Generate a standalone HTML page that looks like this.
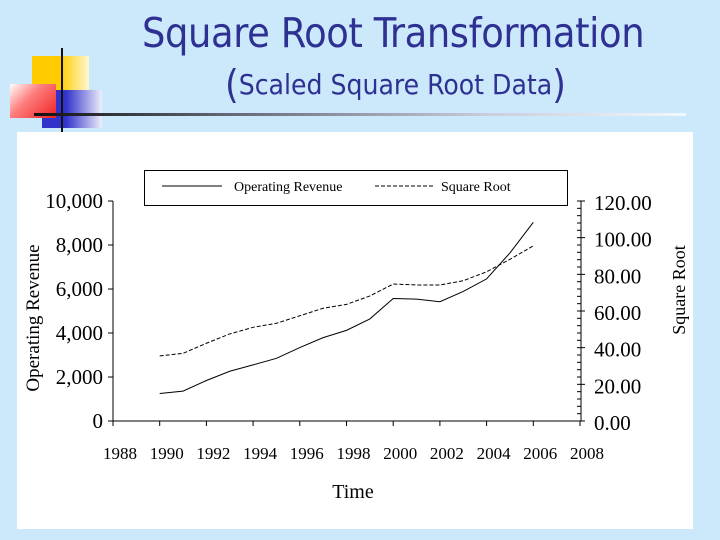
<!DOCTYPE html>
<html><head><meta charset="utf-8"><style>
html,body{margin:0;padding:0;}
body{width:720px;height:540px;background:#cce8fb;position:relative;overflow:hidden;font-family:"Liberation Serif",serif;}
.t{position:absolute;color:#2e3192;font-family:"DejaVu Sans Condensed","Liberation Sans",sans-serif;white-space:nowrap;}
</style></head><body>
<div style="position:absolute;left:32px;top:56px;width:57px;height:57px;background:linear-gradient(90deg,#ffcc00 50%,#fff7d0);"></div>
<div style="position:absolute;left:42px;top:90px;width:60px;height:38px;background:linear-gradient(90deg,#3333cc 40%,#eeeefa);"></div>
<div style="position:absolute;left:10px;top:84px;width:46px;height:34px;background:linear-gradient(135deg,#fff 0%,#ff8080 40%,#ee2222);"></div>
<div style="position:absolute;left:61px;top:48px;width:2px;height:84px;background:#111;"></div>
<div style="position:absolute;left:34px;top:113px;width:652px;height:3px;background:linear-gradient(90deg,#111,#667 30%,#ccd 70%,#f2f8fc);"></div>
<div class="t" style="left:142px;top:9px;font-size:41px;letter-spacing:-0.4px;">Square Root Transformation</div>
<div class="t" style="left:225px;top:63px;font-size:28px;"><span style="font-size:39px;vertical-align:-4px">(</span>Scaled Square Root Data<span style="font-size:39px;vertical-align:-4px">)</span></div>
<div style="position:absolute;left:17px;top:132px;width:676px;height:397px;background:#fff;"></div>
<svg width="720" height="540" style="position:absolute;left:0;top:0" font-family="Liberation Serif, serif">
<g id="g"></g>
</svg>
<script>
const years=[1990,1991,1992,1993,1994,1995,1996,1997,1998,1999,2000,2001,2002,2003,2004,2005,2006];
const revenue=[1250,1360,1840,2260,2550,2850,3340,3790,4120,4640,5570,5540,5420,5890,6460,7640,9030];
const sqrtVals=[35.5,36.9,42.4,47.5,51.1,53.3,57.4,61.5,63.6,68.2,74.7,74.2,74.2,76.5,81.4,88.2,95.5];
const leftTicks=[0,2000,4000,6000,8000,10000];
const rightTicks=[0,20,40,60,80,100,120];
const xTicks=[1988,1990,1992,1994,1996,1998,2000,2002,2004,2006,2008];
const NS='http://www.w3.org/2000/svg';
const g=document.getElementById('g');
const X=y=>113+(y-1988)*(580-113)/20;
const YL=v=>421-v*(220/10000);
const YR=v=>421-v*(220/120);
function mk(t,a){const e=document.createElementNS(NS,t);for(const k in a)e.setAttribute(k,a[k]);g.appendChild(e);return e;}
let e;
e=mk('line',{x1:113,y1:YL(10000),x2:113,y2:421,stroke:'#000'});


e=mk('line',{x1:113,y1:421,x2:581,y2:421,stroke:'#000'});


e=mk('line',{x1:581,y1:YR(120),x2:581,y2:421,stroke:'#000'});


leftTicks.forEach(v=>{
 mk('line',{x1:108,y1:YL(v),x2:113,y2:YL(v),stroke:'#000'});
 e=mk('text',{x:103,y:YL(v)+7,'text-anchor':'end','font-size':21});
 e.textContent=v.toLocaleString('en-US');
 
 
});
for(let v=0;v<=120;v+=4){mk('line',{x1:577,y1:YR(v),x2:581,y2:YR(v),stroke:'#000'});}
rightTicks.forEach(v=>{
 mk('line',{x1:581,y1:YR(v),x2:585,y2:YR(v),stroke:'#000'});
 e=mk('text',{x:594,y:YR(v)+9,'font-size':21});
 e.textContent=v.toFixed(2);
 
 
});
xTicks.forEach(v=>{
 mk('line',{x1:X(v),y1:421,x2:X(v),y2:426,stroke:'#000'});
 e=mk('text',{x:X(v)+7,y:459,'text-anchor':'middle','font-size':17});
 e.textContent=v;
 
 
});
e=mk('polyline',{points:years.map((y,i)=>X(y)+','+YL(revenue[i])).join(' '),fill:'none',stroke:'#000','stroke-width':1});


e=mk('polyline',{points:years.map((y,i)=>X(y)+','+YR(sqrtVals[i])).join(' '),fill:'none',stroke:'#000','stroke-width':1,'stroke-dasharray':'4,2'});


e=mk('rect',{x:144.5,y:170.5,width:423,height:35,fill:'#fff',stroke:'#000'});


mk('line',{x1:162,y1:186,x2:222,y2:186,stroke:'#000'});
e=mk('text',{x:234,y:191,'font-size':14});e.textContent='Operating Revenue';


mk('line',{x1:375,y1:186,x2:435,y2:186,stroke:'#000','stroke-dasharray':'4,2'});
e=mk('text',{x:441,y:191,'font-size':14});e.textContent='Square Root';


e=mk('text',{x:353,y:498,'text-anchor':'middle','font-size':20});e.textContent='Time';


e=mk('text',{x:0,y:0,'text-anchor':'middle','font-size':19,transform:'translate(39,318) rotate(-90)'});e.textContent='Operating Revenue';


e=mk('text',{x:0,y:0,'text-anchor':'middle','font-size':18,transform:'translate(685,290) rotate(-90)'});e.textContent='Square Root';


</script>
</body></html>
